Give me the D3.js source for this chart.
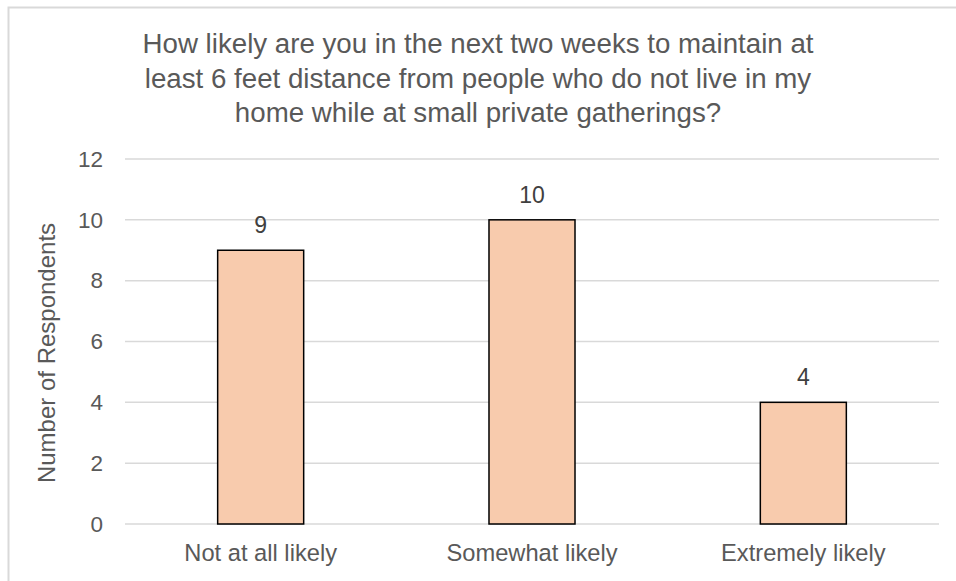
<!DOCTYPE html>
<meta charset="utf-8">
<style>
body { margin: 0; background: #fff; }
text { font-family: "Liberation Sans", Arial, sans-serif; }
</style>
<svg width="956" height="581"></svg>
<script src="https://d3js.org/d3.v7.min.js"></script>
<script>

var categories = ["Not at all likely", "Somewhat likely", "Extremely likely"];
var values = [9, 10, 4];
var yTicks = [0, 2, 4, 6, 8, 10, 12];
var titleLines = [
  "How likely are you in the next two weeks to maintain at",
  "least 6 feet distance from people who do not live in my",
  "home while at small private gatherings?"
];

var svg = d3.select("svg");

// outer chart border (right/bottom run off the picture)
svg.append("rect")
    .attr("x", 8.5).attr("y", 7.5)
    .attr("width", 960).attr("height", 600)
    .attr("fill", "#fff")
    .attr("stroke", "#d9d9d9")
    .attr("stroke-width", 2);

var margin = {left: 125, right: 17, top: 159, bottom: 57},
    width = 956 - margin.left - margin.right,
    height = 581 - margin.top - margin.bottom;

var g = svg.append("g").attr("transform", "translate(" + margin.left + "," + margin.top + ")");

var x = d3.scaleBand().domain(categories).range([0, width])
    .paddingInner(0.683).paddingOuter(0.3415);
var y = d3.scaleLinear().domain([0, 12]).range([height, 0]);

// gridlines
g.selectAll(".grid")
  .data(yTicks)
  .enter().append("line")
    .attr("x1", 0).attr("x2", width)
    .attr("y1", function(d) { return y(d); })
    .attr("y2", function(d) { return y(d); })
    .attr("stroke", "#d9d9d9")
    .attr("stroke-width", 1.5);

// y axis labels
var yAxis = g.append("g").call(d3.axisLeft(y).tickValues(yTicks).tickSize(0).tickPadding(22));
yAxis.select(".domain").remove();
yAxis.selectAll("text")
    .attr("fill", "#595959")
    .style("font-size", "22.5px")
    .style("font-family", "'Liberation Sans', Arial, sans-serif");

// bars
g.selectAll(".bar")
  .data(values)
  .enter().append("rect")
    .attr("x", function(d, i) { return x(categories[i]); })
    .attr("y", function(d) { return y(d); })
    .attr("width", x.bandwidth())
    .attr("height", function(d) { return height - y(d); })
    .attr("fill", "#f8cbad")
    .attr("stroke", "#000")
    .attr("stroke-width", 1.5);

// data labels
g.selectAll(".lbl")
  .data(values)
  .enter().append("text")
    .attr("x", function(d, i) { return x(categories[i]) + x.bandwidth() / 2; })
    .attr("y", function(d) { return y(d) - 17; })
    .attr("text-anchor", "middle")
    .attr("fill", "#404040")
    .style("font-size", "23px")
    .text(function(d) { return d; });

// x axis labels
var xAxis = g.append("g").attr("transform", "translate(0," + height + ")")
    .call(d3.axisBottom(x).tickSize(0).tickPadding(0));
xAxis.select(".domain").remove();
xAxis.selectAll("text")
    .attr("dy", null)
    .attr("y", 37)
    .attr("fill", "#595959")
    .style("font-size", "23.7px")
    .style("font-family", "'Liberation Sans', Arial, sans-serif");

// y axis title
svg.append("text")
    .attr("transform", "translate(55,353) rotate(-90)")
    .attr("text-anchor", "middle")
    .attr("fill", "#595959")
    .style("font-size", "24px")
    .text("Number of Respondents");

// chart title
svg.selectAll(".title")
  .data(titleLines)
  .enter().append("text")
    .attr("x", 478)
    .attr("y", function(d, i) { return 53 + i * 34.5; })
    .attr("text-anchor", "middle")
    .attr("fill", "#595959")
    .style("font-size", "27.7px")
    .text(function(d) { return d; });

</script>
